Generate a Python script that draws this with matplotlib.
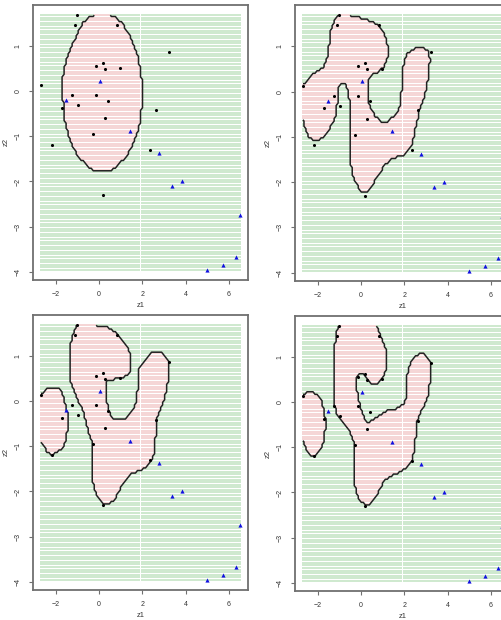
import numpy as np
import matplotlib
matplotlib.use("Agg")
import matplotlib.pyplot as plt
from matplotlib.path import Path

plt.rcParams['font.family'] = ['Liberation Sans', 'DejaVu Sans']

# ---- observations -------------------------------------------------------
class1_z1 = [-1.01, -1.12, 0.81, 3.21, -0.16, 0.19, 0.28, 0.95, -2.68, -1.24,
             -0.12, -1.71, -0.99, 0.40, 0.28, 2.62, -0.28, -2.17, 2.37, 0.20]
class1_z2 = [1.69, 1.48, 1.48, 0.88, 0.56, 0.64, 0.50, 0.51, 0.13, -0.09,
             -0.09, -0.36, -0.31, -0.21, -0.60, -0.41, -0.95, -1.18, -1.30, -2.30]
class2_z1 = [0.06, -1.52, 1.43, 2.76, 3.38, 3.81, 6.51, 6.34, 5.71, 4.99]
class2_z2 = [0.24, -0.20, -0.87, -1.37, -2.11, -2.00, -2.74, -3.68, -3.86, -3.96]

x_ticks = [-2, 0, 2, 4, 6]
y_ticks = [-4, -3, -2, -1, 0, 1]
x_label = "z1"
y_label = "z2"
grid_n = 100

# ---- decision regions (class-1 areas) -----------------------------------
p1_ellipse = [(-0.20, 1.81), (-0.20, 1.69), (-0.51, 1.63), (-0.74, 1.52), (-0.90, 1.37),
              (-1.05, 1.22), (-1.29, 1.00), (-1.44, 0.81), (-1.55, 0.63), (-1.64, 0.44),
              (-1.67, 0.26), (-1.67, -0.11), (-1.64, -0.41), (-1.58, -0.67), (-1.44, -0.92),
              (-1.29, -1.15), (-1.05, -1.37), (-0.82, -1.52), (-0.51, -1.66), (-0.23, -1.78),
              (0.50, -1.78), (0.81, -1.66), (1.12, -1.52), (1.35, -1.37), (1.58, -1.15),
              (1.77, -0.92), (1.89, -0.67), (1.97, -0.33), (1.97, 0.26), (1.89, 0.55),
              (1.77, 0.81), (1.58, 1.07), (1.35, 1.29), (1.12, 1.48), (0.81, 1.63),
              (0.50, 1.69), (0.50, 1.81)]

p2_region = [(-3.02, 0.15), (-2.68, 0.15), (-2.48, 0.26), (-2.25, 0.37), (-2.02, 0.44),
             (-1.78, 0.52), (-1.60, 0.67), (-1.52, 0.85), (-1.47, 1.07), (-1.43, 1.29),
             (-1.32, 1.48), (-1.13, 1.63), (-1.01, 1.69), (-1.01, 1.81), (-0.54, 1.81),
             (-0.54, 1.69), (-0.23, 1.66), (0.16, 1.61), (0.54, 1.53), (0.85, 1.44),
             (1.01, 1.33), (1.13, 1.18), (1.24, 1.00), (1.24, 0.81), (1.16, 0.67),
             (1.01, 0.52), (0.78, 0.44), (0.54, 0.37), (0.36, 0.26), (0.31, 0.11),
             (0.33, -0.18), (0.42, -0.35), (0.62, -0.52), (0.85, -0.63), (1.09, -0.69),
             (1.32, -0.63), (1.63, -0.48), (1.78, -0.33), (1.86, -0.04), (1.91, 0.33),
             (1.97, 0.63), (2.09, 0.81), (2.33, 0.92), (2.56, 0.96), (2.87, 0.96),
             (3.10, 0.89), (3.18, 0.74), (3.15, 0.41), (3.02, 0.11), (2.90, -0.18),
             (2.71, -0.41), (2.56, -0.70), (2.48, -0.92), (2.37, -1.15), (2.22, -1.29),
             (1.94, -1.41), (1.63, -1.44), (1.32, -1.52), (1.09, -1.63), (0.88, -1.78),
             (0.70, -1.92), (0.47, -2.11), (0.26, -2.22), (0.08, -2.24), (-0.08, -2.14),
             (-0.26, -2.00), (-0.39, -1.81), (-0.47, -1.59), (-0.50, -1.29), (-0.51, -0.92),
             (-0.53, -0.48), (-0.54, -0.18), (-0.62, 0.04), (-0.73, 0.15), (-0.88, 0.18),
             (-1.01, 0.11), (-1.09, 0.04), (-1.09, -0.18), (-1.12, -0.41), (-1.19, -0.55),
             (-1.32, -0.70), (-1.47, -0.85), (-1.71, -1.00), (-1.91, -1.07), (-2.17, -1.07),
             (-2.36, -1.04), (-2.48, -0.92), (-2.59, -0.78), (-2.68, -0.63), (-3.02, -0.63)]

p3_left = [(-3.07, 0.14), (-2.73, 0.14), (-2.60, 0.20), (-2.45, 0.26), (-2.29, 0.29),
           (-1.91, 0.29), (-1.75, 0.24), (-1.64, 0.13), (-1.57, -0.02), (-1.49, -0.17),
           (-1.41, -0.35), (-1.41, -0.50), (-1.47, -0.65), (-1.52, -0.80), (-1.60, -0.95),
           (-1.75, -1.06), (-1.98, -1.15), (-2.17, -1.19), (-2.33, -1.15), (-2.48, -1.06),
           (-2.60, -0.95), (-2.70, -0.87), (-3.07, -0.87)]

p3_main = [(-1.02, 1.83), (-1.02, 1.70), (-1.13, 1.59), (-1.24, 1.42), (-1.32, 1.23),
           (-1.33, 0.94), (-1.33, 0.50), (-1.24, 0.33), (-1.09, 0.15), (-0.90, -0.04),
           (-0.74, -0.23), (-0.62, -0.43), (-0.50, -0.63), (-0.36, -0.87), (-0.31, -1.00),
           (-0.31, -1.20), (-0.33, -1.50), (-0.28, -1.80), (-0.17, -2.02), (0.03, -2.20),
           (0.26, -2.28), (0.50, -2.26), (0.73, -2.17), (0.93, -1.98), (1.19, -1.76),
           (1.50, -1.61), (1.89, -1.54), (2.20, -1.46), (2.43, -1.32), (2.54, -1.13),
           (2.59, -0.91), (2.64, -0.69), (2.67, -0.39), (2.82, -0.17), (2.98, 0.01),
           (3.13, 0.27), (3.21, 0.50), (3.24, 0.72), (3.21, 0.88), (3.05, 1.01),
           (2.82, 1.09), (2.59, 1.10), (2.36, 1.05), (2.16, 0.94), (1.97, 0.83),
           (1.81, 0.70), (1.80, 0.57), (1.78, 0.27), (1.74, 0.05), (1.58, -0.17),
           (1.35, -0.32), (1.12, -0.41), (0.73, -0.41), (0.54, -0.30), (0.42, -0.13),
           (0.34, 0.09), (0.31, 0.31), (0.34, 0.46), (0.57, 0.48), (0.88, 0.50),
           (1.15, 0.53), (1.35, 0.61), (1.47, 0.72), (1.47, 0.86), (1.43, 1.09),
           (1.24, 1.27), (0.99, 1.42), (0.73, 1.53), (0.42, 1.63), (0.03, 1.68),
           (-0.36, 1.70), (-0.36, 1.83)]

p4_left = [(-3.02, 0.14), (-2.71, 0.14), (-2.56, 0.21), (-2.33, 0.24), (-2.09, 0.20),
           (-1.91, 0.11), (-1.78, -0.02), (-1.71, -0.17), (-1.66, -0.32), (-1.60, -0.50),
           (-1.66, -0.61), (-1.71, -0.76), (-1.75, -0.91), (-1.86, -1.06), (-2.02, -1.15),
           (-2.17, -1.19), (-2.33, -1.17), (-2.48, -1.09), (-2.59, -0.98), (-2.68, -0.87),
           (-3.02, -0.87)]

p4_main = [(-1.04, 1.83), (-1.04, 1.70), (-1.12, 1.57), (-1.16, 1.42), (-1.21, 1.24),
           (-1.24, 0.94), (-1.27, 0.57), (-1.27, 0.13), (-1.22, -0.10), (-1.12, -0.24),
           (-0.96, -0.36), (-0.74, -0.48), (-0.54, -0.63), (-0.39, -0.80), (-0.31, -0.95),
           (-0.31, -1.21), (-0.33, -1.50), (-0.29, -1.80), (-0.23, -2.00), (-0.05, -2.18),
           (0.19, -2.28), (0.42, -2.26), (0.62, -2.15), (0.81, -1.98), (0.98, -1.81),
           (1.19, -1.69), (1.47, -1.60), (1.78, -1.55), (2.06, -1.46), (2.33, -1.32),
           (2.43, -1.13), (2.50, -0.91), (2.54, -0.69), (2.60, -0.43), (2.74, -0.24),
           (2.95, -0.06), (3.10, 0.16), (3.18, 0.42), (3.22, 0.68), (3.21, 0.87),
           (3.10, 0.99), (2.90, 1.07), (2.71, 1.09), (2.51, 1.03), (2.33, 0.92),
           (2.20, 0.79), (2.12, 0.57), (2.12, 0.27), (2.09, 0.07), (1.97, -0.04),
           (1.75, -0.12), (1.47, -0.16), (1.16, -0.20), (0.88, -0.27), (0.62, -0.36),
           (0.39, -0.44), (0.26, -0.47), (0.16, -0.36), (0.05, -0.21), (-0.05, -0.06),
           (-0.12, 0.09), (-0.19, 0.27), (-0.23, 0.46), (-0.20, 0.57), (-0.08, 0.63),
           (0.08, 0.64), (0.20, 0.59), (0.31, 0.50), (0.47, 0.42), (0.67, 0.41),
           (0.85, 0.46), (1.01, 0.55), (1.12, 0.68), (1.16, 0.87), (1.16, 1.09),
           (1.09, 1.27), (0.96, 1.43), (0.81, 1.59), (0.73, 1.70), (0.73, 1.83)]

panel_regions = [[p1_ellipse], [p2_region], [p3_left, p3_main], [p4_left, p4_main]]

# ---- layout (pixels in a 501x620 canvas) ---------------------------------
W, H = 501, 620
panel_boxes = [(33, 5, 215, 275), (295, 5, 215, 276), (33, 315, 215, 275), (295, 316, 215, 275)]

fig = plt.figure(figsize=(W / 100, H / 100), dpi=100)

all_x = np.array(class1_z1 + class2_z1)
all_y = np.array(class1_z2 + class2_z2)
gx = np.linspace(all_x.min(), all_x.max(), grid_n)
gy = np.linspace(all_y.min(), all_y.max(), grid_n)
GX, GY = np.meshgrid(gx, gy)
pts = np.column_stack([GX.ravel(), GY.ravel()])
xr = all_x.max() - all_x.min()
yr = all_y.max() - all_y.min()

axis_col = '#707070'
for (l, t, w, h), regions in zip(panel_boxes, panel_regions):
    ax = fig.add_axes([l / W, 1 - (t + h) / H, w / W, h / H])
    inside = np.zeros(len(pts), dtype=bool)
    for poly in regions:
        inside |= Path(poly).contains_points(pts)
    ax.scatter(pts[~inside, 0], pts[~inside, 1], s=0.9, marker='s', linewidths=0,
               color='#cfe9cf', zorder=1)
    ax.scatter(pts[inside, 0], pts[inside, 1], s=0.9, marker='s', linewidths=0,
               color='#f5d6d6', zorder=1)
    ax.contour(GX, GY, inside.reshape(GX.shape).astype(float), levels=[0.5],
               colors='#222222', linewidths=1.1, zorder=2)
    ax.scatter(class1_z1, class1_z2, s=5, color='black', marker='o', linewidths=0, zorder=3)
    ax.scatter(class2_z1, class2_z2, s=9, color='#1010e0', marker='^', linewidths=0, zorder=3)

    ax.set_xlim(all_x.min() - 0.04 * xr, all_x.max() + 0.04 * xr)
    ax.set_ylim(all_y.min() - 0.04 * yr, all_y.max() + 0.04 * yr)
    ax.set_xticks(x_ticks)
    ax.set_yticks(y_ticks)
    ax.tick_params(length=3, width=0.8, color=axis_col, labelsize=5, labelcolor='#333333', pad=5)
    for lab in ax.get_yticklabels():
        lab.set_rotation(90)
        lab.set_va('center')
    for sp in ax.spines.values():
        sp.set_color(axis_col)
        sp.set_linewidth(1.3)
    ax.set_xlabel(x_label, fontsize=5.5, color='#333333', labelpad=3)
    ax.set_ylabel(y_label, fontsize=5.5, color='#333333', labelpad=4)

fig.savefig("out.png", dpi=100)
